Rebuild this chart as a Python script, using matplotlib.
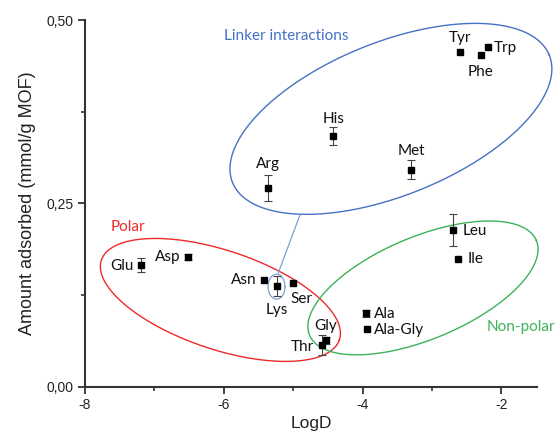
import numpy as np
import matplotlib
matplotlib.use("Agg")
import matplotlib.pyplot as plt
from matplotlib.ticker import FixedLocator

# ---- data ----
names = ["Glu", "Asp", "Asn", "Lys", "Ser", "Gly", "Thr", "Ala", "Ala-Gly",
         "Leu", "Ile", "Arg", "His", "Met", "Tyr", "Phe", "Trp"]
logd = [-7.19, -6.52, -5.42, -5.24, -5.01, -4.53, -4.59, -3.95, -3.94,
        -2.70, -2.62, -5.37, -4.42, -3.30, -2.60, -2.30, -2.20]
amount = [0.166, 0.177, 0.145, 0.137, 0.141, 0.063, 0.057, 0.100, 0.079,
          0.214, 0.174, 0.271, 0.342, 0.296, 0.457, 0.452, 0.463]
err = [0.009, 0.004, 0.0, 0.014, 0.0, 0.005, 0.014, 0.005, 0.0,
       0.022, 0.0, 0.018, 0.0125, 0.013, 0.0, 0.0, 0.0]

xticks = [-8, -6, -4, -2]
xtick_labels = ["-8", "-6", "-4", "-2"]
yticks = [0.0, 0.25, 0.50]
ytick_labels = ["0,00", "0,25", "0,50"]

# ---- label placement (offset in pixels, alignment) ----
label_pos = {
    "Tyr": (0, 14, "center"), "Trp": (6.6, -1, "left"), "Phe": (0, -16.6, "center"),
    "His": (0, 17, "center"), "Met": (0, 19, "center"), "Arg": (0, 24.4, "center"),
    "Leu": (10, -1.7, "left"), "Ile": (9.4, 0, "left"), "Ala": (8.3, -0.7, "left"),
    "Ala-Gly": (7.3, -1, "left"), "Gly": (0, 14.7, "center"), "Thr": (-8, -2.3, "right"),
    "Ser": (-2, -15.4, "left"), "Lys": (0, -23.3, "center"), "Asn": (-7, 0, "right"),
    "Asp": (-7.3, 0, "right"), "Glu": (-7.7, -1, "right"),
}

W, H = 555, 436
fig = plt.figure(figsize=(W / 100, H / 100), dpi=100)
ax = fig.add_axes([85 / W, (H - 386.7) / H, 452 / W, (386.7 - 20) / H])
ax.set_xlim(-8, -1.487)
ax.set_ylim(0, 0.50)

axis_col = "#333333"
tick_font = ["Liberation Sans", "DejaVu Sans"]
lab_font = ["Lato", "DejaVu Sans"]

for s in ["top", "right"]:
    ax.spines[s].set_visible(False)
for s in ["left", "bottom"]:
    ax.spines[s].set_color(axis_col)
    ax.spines[s].set_linewidth(1.5)

ax.xaxis.set_major_locator(FixedLocator(xticks))
ax.set_xticklabels(xtick_labels, fontfamily=tick_font, fontsize=10)
ax.yaxis.set_major_locator(FixedLocator(yticks))
ax.set_yticklabels(ytick_labels, fontfamily=tick_font, fontsize=10)
ax.xaxis.set_minor_locator(FixedLocator([-7, -5, -3]))
ax.yaxis.set_minor_locator(FixedLocator([0.125, 0.375]))
ax.tick_params(which="major", direction="out", length=5, width=1.3, color=axis_col,
               labelcolor="#222222", pad=3)
ax.tick_params(which="minor", direction="out", length=3, width=1.2, color=axis_col)

ax.set_xlabel("LogD", fontfamily=tick_font, fontsize=12.5, color="#222222", labelpad=3)
ax.set_ylabel("Amount adsorbed (mmol/g MOF)", fontfamily=tick_font, fontsize=13,
              color="#222222", labelpad=8)

x = np.array(logd)
y = np.array(amount)
e = np.array(err)
m = e > 0
ax.errorbar(x[m], y[m], yerr=e[m], fmt="none", ecolor="#444444", elinewidth=0.8,
            capsize=3, capthick=0.8, zorder=3)
ax.plot(x, y, "s", color="black", markersize=5, zorder=4)

for n, xi, yi in zip(names, logd, amount):
    dx, dy, ha = label_pos[n]
    ax.annotate(n, (xi, yi), xytext=(dx * 0.72, dy * 0.72), textcoords="offset points",
                ha=ha, va="center", fontsize=11, fontfamily=lab_font, color="#111111",
                zorder=5)

# ---- group ellipses (drawn in screen space around data-anchored centres) ----
def ellipse(cx, cy, a, b, ang, color, lw=1.0):
    t = np.linspace(0, 2 * np.pi, 400)
    X0, Y0 = ax.transData.transform((cx, cy))
    th = np.deg2rad(ang)
    px = X0 + a * np.cos(t) * np.cos(th) - b * np.sin(t) * np.sin(th)
    py = Y0 + a * np.cos(t) * np.sin(th) + b * np.sin(t) * np.cos(th)
    pts = ax.transData.inverted().transform(np.column_stack([px, py]))
    ax.plot(pts[:, 0], pts[:, 1], color=color, lw=lw, clip_on=False, zorder=2)

blue = "#4472C4"
red = "#EE2A2A"
green = "#3DB25A"
ellipse(-3.592, 0.3652, 170.7, 76.7, 21.9, blue)
ellipse(-6.049, 0.1183, 125.5, 49.4, -18.5, red)
ellipse(-3.130, 0.1347, 122.9, 51.2, 22.7, green)
ellipse(-5.240, 0.1364, 8.5, 12.5, 0, "#7F9FD8", lw=0.9)
ax.plot([-5.215, -4.900], [0.1551, 0.2349], color="#7F9FD8", lw=0.9, zorder=2)

ax.text(-5.10, 0.478, "Linker interactions", color=blue, fontsize=11,
        fontfamily=lab_font, ha="center", va="center")
ax.text(-7.38, 0.2175, "Polar", color=red, fontsize=11, fontfamily=lab_font,
        ha="center", va="center")
ax.text(-2.21, 0.0815, "Non-polar", color=green, fontsize=11, fontfamily=lab_font,
        ha="left", va="center", clip_on=False)

fig.savefig("out.png", dpi=100)
